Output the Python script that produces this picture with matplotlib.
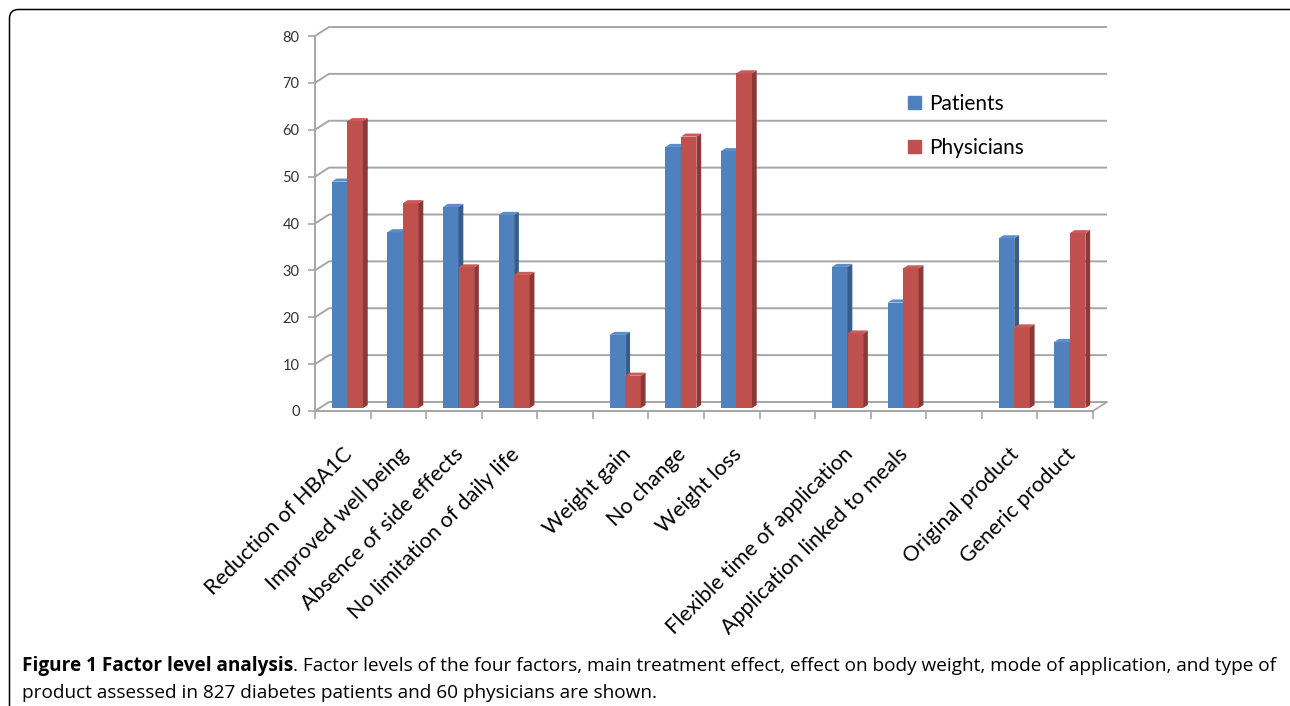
import matplotlib
matplotlib.use("Agg")
import matplotlib.pyplot as plt
from matplotlib.patches import Patch, FancyBboxPatch
import numpy as np

# datos
categorias = ["Reduction of HBA1C", "Improved well being", "Absence of side effects",
              "No limitation of daily life", "Weight gain", "No change", "Weight loss",
              "Flexible time of application", "Application linked to meals",
              "Original product", "Generic product"]
# posicion de cada categoria en el eje (huecos entre factores)
posiciones = [0, 1, 2, 3, 5, 6, 7, 9, 10, 12, 13]
pacientes = [48.3, 37.5, 42.9, 41.2, 15.6, 55.7, 54.8, 30.1, 22.5, 36.2, 14.1]
medicos = [61.2, 43.7, 30.0, 28.4, 6.9, 57.9, 71.4, 15.9, 29.8, 17.2, 37.3]
n_huecos = 14
yticks = np.arange(0, 81, 10)

AZUL = ("#4F81BD", "#385D8A", "#5B8DC8")
ROJO = ("#C0504D", "#8C3836", "#C95C59")
GRIS = "#A6A6A6"

W, H = 1290, 706
fig = plt.figure(figsize=(W / 100, H / 100), dpi=100)

# capa de fondo en pixeles: marco y pie de figura
fondo = fig.add_axes([0, 0, 1, 1])
fondo.set_xlim(0, W)
fondo.set_ylim(H, 0)
fondo.axis("off")
marco = FancyBboxPatch((9.5, 9.5), 1310, H + 30, boxstyle="round,pad=0,rounding_size=9",
                       fill=False, ec="black", lw=1.1)
fondo.add_patch(marco)

# ejes principales, colocados en pixeles
x0_px, y0_px = 315, 411
sx, sy = (1093 - 315) / 14, (411 - 36) / 80
izq, der, arr, aba = 280, 1120, 15, 430
ax = fig.add_axes([izq / W, (H - aba) / H, (der - izq) / W, (aba - arr) / H])
ax.set_xlim((izq - x0_px) / sx, (der - x0_px) / sx)
ax.set_ylim((y0_px - aba) / sy, (y0_px - arr) / sy)
ax.patch.set_alpha(0)

DX, DY = 14 / sx, 9 / sy   # profundidad de la pared del fondo
f, b = 0.33, 0.67          # profundidad de las barras

# rejilla de la pared del fondo y pared lateral
for v in yticks:
    ax.plot([0, DX, n_huecos + DX], [v, v + DY, v + DY], color=GRIS, lw=1.4, zorder=1,
            solid_capstyle="butt")
ax.plot([n_huecos, n_huecos + DX], [0, DY], color=GRIS, lw=1.2, zorder=1)

def barra(xl, ancho, v, colores):
    xr = xl + ancho
    ax.bar(xl + f * DX, v, width=ancho, bottom=f * DY, align="edge", color=colores[0], zorder=3)
    ax.fill([xr + f * DX, xr + b * DX, xr + b * DX, xr + f * DX],
            [f * DY, b * DY, v + b * DY, v + f * DY], color=colores[1], lw=0, zorder=3)
    ax.fill([xl + f * DX, xr + f * DX, xr + b * DX, xl + b * DX],
            [v + f * DY, v + f * DY, v + b * DY, v + b * DY], color=colores[2], lw=0, zorder=3)

ancho = 0.28
for p, vp, vm in zip(posiciones, pacientes, medicos):
    barra(p + 0.22, ancho, vp, AZUL)
    barra(p + 0.22 + ancho, ancho, vm, ROJO)

# ejes
for lado in ["top", "right"]:
    ax.spines[lado].set_visible(False)
ax.spines["left"].set_position(("data", 0))
ax.spines["left"].set_bounds(0, 80)
ax.spines["bottom"].set_position(("data", 0))
ax.spines["bottom"].set_bounds(0, n_huecos)
for lado in ["left", "bottom"]:
    ax.spines[lado].set_color(GRIS)
    ax.spines[lado].set_linewidth(1.4)

ax.set_yticks(yticks)
ax.set_yticklabels([str(v) for v in yticks], fontsize=10.5, family="Lato", color="#333333")
ax.tick_params(axis="y", length=5, width=1.2, color=GRIS, pad=6)

centros = np.array(posiciones) + 0.5
ax.set_xticks(centros + 0.12)
ax.set_xticklabels(categorias, rotation=45, ha="right", va="center", rotation_mode="anchor",
                   fontsize=15.5, family="Lato", color="black")
ax.set_xticks(np.arange(0, n_huecos + 1), minor=True)
ax.tick_params(axis="x", which="major", length=0, pad=29)
ax.tick_params(axis="x", which="minor", length=6, width=1.2, color=GRIS)

ax.legend(handles=[Patch(color=AZUL[0], label="Patients"), Patch(color=ROJO[0], label="Physicians")],
          loc="upper left", bbox_to_anchor=(908, 94), bbox_transform=fondo.transData,
          frameon=False, prop={"family": "Lato", "size": 15}, handlelength=0.6,
          handleheight=0.6, handletextpad=0.4, labelspacing=1.15, borderpad=0, borderaxespad=0)

# pie de figura: la primera linea ocupa el ancho del marco
parte2 = (". Factor levels of the four factors, main treatment effect, "
          "effect on body weight, mode of application, and type of")
linea2 = "product assessed in 827 diabetes patients and 60 physicians are shown."
tam = 11.5
t1 = fondo.text(22, 666, "Figure 1 Factor level analysis", fontsize=tam, family="Open Sans",
                weight="bold", va="center")
t2 = fondo.text(0, 666, parte2, fontsize=tam, family="Open Sans", va="center")
fig.canvas.draw()
ancho_px = t1.get_window_extent().width + t2.get_window_extent().width
tam = tam * (1280 - 22) / ancho_px
t1.set_fontsize(tam)
t2.set_fontsize(tam)
fig.canvas.draw()
t2.set_x(22 + t1.get_window_extent().width)
fondo.text(22, 693, linea2, fontsize=tam, family="Open Sans", va="center")

fig.savefig("out.png", dpi=100)
